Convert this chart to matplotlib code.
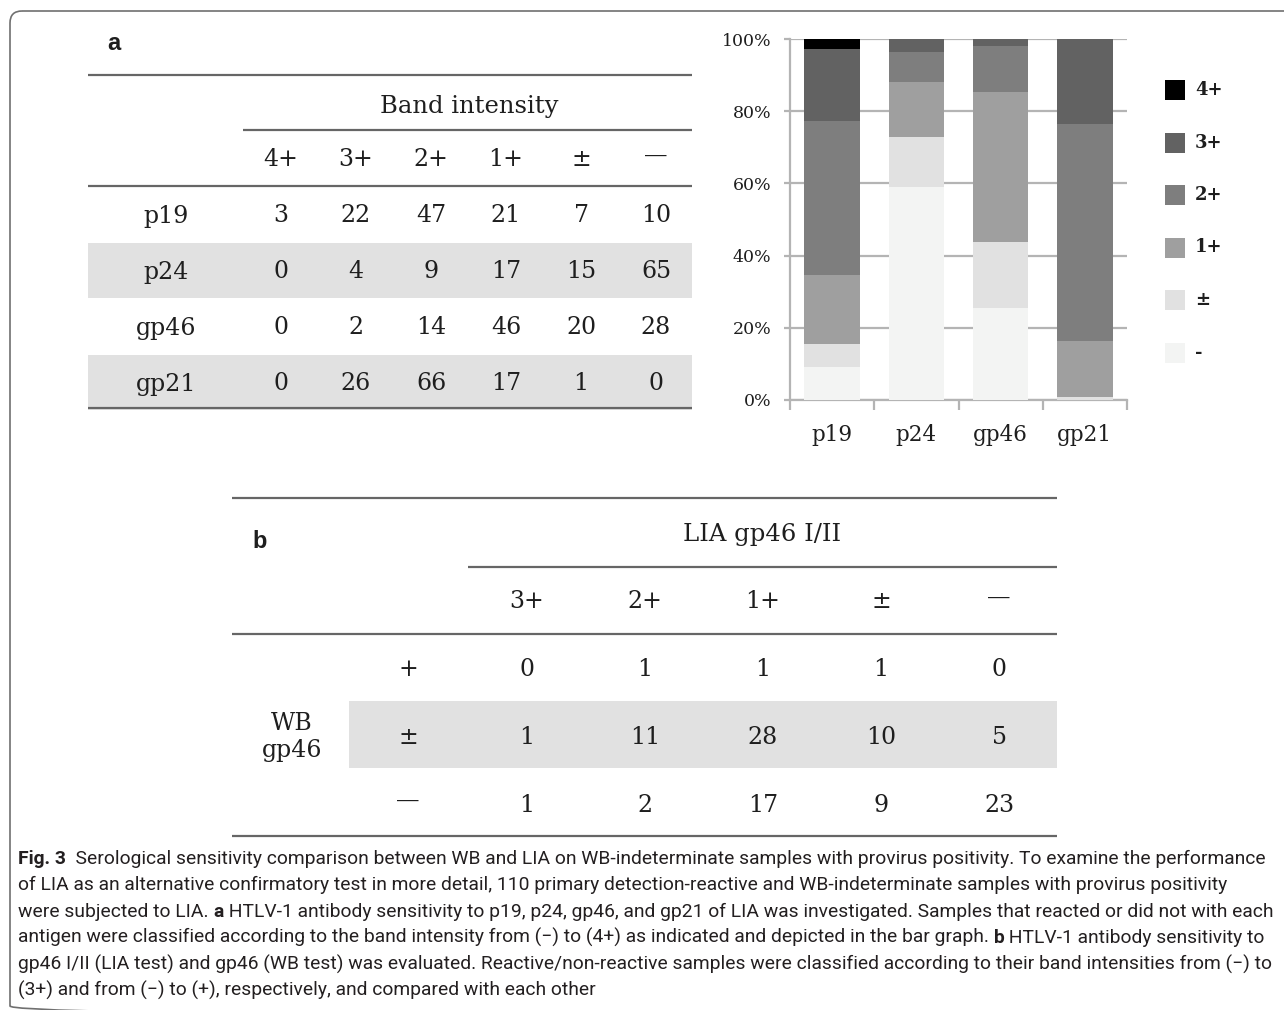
import matplotlib
matplotlib.use('Agg')
import matplotlib.pyplot as plt
import numpy as np
from matplotlib import font_manager
from matplotlib.patches import Rectangle, FancyBboxPatch

# ---- data ----
antigens = ['p19', 'p24', 'gp46', 'gp21']
intensity = ['4+', '3+', '2+', '1+', '±', '—']
counts_a = np.array([[3, 22, 47, 21, 7, 10],
                     [0, 4, 9, 17, 15, 65],
                     [0, 2, 14, 46, 20, 28],
                     [0, 26, 66, 17, 1, 0]])
legend_labels = ['4+', '3+', '2+', '1+', '±', '-']
bar_colors = ['#000000', '#626262', '#7e7e7e', '#9f9f9f', '#e1e1e1', '#f3f4f3']
pct_ticks = ['0%', '20%', '40%', '60%', '80%', '100%']

lia_cols = ['3+', '2+', '1+', '±', '—']
wb_rows = ['+', '±', '—']
counts_b = [[0, 1, 1, 1, 0],
            [1, 11, 28, 10, 5],
            [1, 2, 17, 9, 23]]

caption = [
    [('Fig. 3', True), ('  Serological sensitivity comparison between WB and LIA on WB-indeterminate samples with provirus positivity. To examine the performance', False)],
    [('of LIA as an alternative confirmatory test in more detail, 110 primary detection-reactive and WB-indeterminate samples with provirus positivity', False)],
    [('were subjected to LIA. ', False), ('a', True), (' HTLV-1 antibody sensitivity to p19, p24, gp46, and gp21 of LIA was investigated. Samples that reacted or did not with each', False)],
    [('antigen were classified according to the band intensity from (\u2212) to (4+) as indicated and depicted in the bar graph. ', False), ('b', True), (' HTLV-1 antibody sensitivity to', False)],
    [('gp46 I/II (LIA test) and gp46 (WB test) was evaluated. Reactive/non-reactive samples were classified according to their band intensities from (\u2212) to', False)],
    [('(3+) and from (\u2212) to (+), respectively, and compared with each other', False)],
]

W, H = 1284, 1010
serif = 'DejaVu Serif'
txt = '#1e1e1e'
rule = '#666666'
shade = '#e1e1e1'

fig = plt.figure(figsize=(W / 100, H / 100), dpi=100)
ax = fig.add_axes([0, 0, 1, 1])
ax.set_xlim(0, W)
ax.set_ylim(H, 0)
ax.axis('off')

# frame
ax.add_patch(FancyBboxPatch((10, 11), 1400, 1007, boxstyle='round,pad=0,rounding_size=12',
                            fill=False, ec='#707070', lw=1.2))

# ---- bar chart ----
bx = fig.add_axes([790 / W, 1 - 400 / H, (1127 - 790) / W, (400 - 39) / H])
pct = counts_a / counts_a.sum(axis=1, keepdims=True) * 100
x = np.arange(len(antigens))
bottom = np.zeros(len(antigens))
for j in range(len(intensity) - 1, -1, -1):
    bx.bar(x, pct[:, j], 0.66, bottom=bottom, color=bar_colors[j], linewidth=0, zorder=3)
    bottom += pct[:, j]
bx.set_xlim(-0.5, 3.5)
bx.set_ylim(0, 100)
bx.set_axisbelow(True)
bx.yaxis.grid(True, color='#b4b4b4', lw=1.6)
bx.set_yticks(np.arange(0, 101, 20))
bx.set_yticklabels(pct_ticks, fontsize=12.5, family=serif, color=txt)
bx.set_xticks(x)
bx.set_xticklabels(antigens, fontsize=15.5, family=serif, color=txt)
bx.set_xticks(np.arange(-0.5, 4, 1), minor=True)
bx.tick_params(axis='x', which='major', length=0, pad=17)
bx.tick_params(axis='x', which='minor', length=7, width=1.6, color='#b4b4b4')
bx.tick_params(axis='y', length=4.5, width=1.6, color='#b4b4b4', pad=9)
for s in ['top', 'right']:
    bx.spines[s].set_visible(False)
for s in ['left', 'bottom']:
    bx.spines[s].set_color('#b4b4b4')
    bx.spines[s].set_linewidth(1.6)

# legend
for i, lab in enumerate(legend_labels):
    yc = 90 + i * 52.5
    ax.add_patch(Rectangle((1165, yc - 10), 20, 20, color=bar_colors[i], lw=0))
    ax.text(1195, yc, lab, fontsize=13, family=serif, weight='bold', va='center', ha='left', color=txt)

# ---- table a ----
ax.text(107, 44, 'a', fontsize=17, family='Liberation Sans', weight='bold', va='center', color=txt)
ax.hlines([75, 186, 408], 88, 692, color=rule, lw=1.6)
ax.hlines(130, 243, 692, color=rule, lw=1.6)
ax.text(469, 106, 'Band intensity', fontsize=17.5, family=serif, ha='center', va='center', color=txt)
for j, lab in enumerate(intensity):
    yl = 155 if lab == '—' else 160
    ax.text(281 + j * 75, yl, lab, fontsize=17, family=serif, ha='center', va='center', color=txt)
for i, name in enumerate(antigens):
    yc = 216 + i * 56
    if i % 2 == 1:
        ax.add_patch(Rectangle((88, yc - 29), 604, 55, color=shade, lw=0))
    ax.text(166, yc, name, fontsize=17, family=serif, ha='center', va='center', color=txt)
    for j in range(len(intensity)):
        ax.text(281 + j * 75, yc, str(counts_a[i, j]), fontsize=17, family=serif,
                ha='center', va='center', color=txt)

# ---- table b ----
ax.hlines([498, 634, 836], 232, 1057, color=rule, lw=1.6)
ax.hlines(567, 468, 1057, color=rule, lw=1.6)
ax.text(252, 541, 'b', fontsize=17, family='Liberation Sans', weight='bold', va='center', color=txt)
ax.text(762, 535, 'LIA gp46 I/II', fontsize=17.5, family=serif, ha='center', va='center', color=txt)
for j, lab in enumerate(lia_cols):
    yl = 597 if lab == '—' else 602
    ax.text(527 + j * 118, yl, lab, fontsize=17, family=serif, ha='center', va='center', color=txt)
ax.add_patch(Rectangle((349, 701), 708, 67, color=shade, lw=0))
ax.text(292, 737, 'WB\ngp46', fontsize=17, family=serif, ha='center', va='center',
        linespacing=1.25, color=txt)
for i, lab in enumerate(wb_rows):
    yc = 669 + i * 68
    yl = yc - 5 if lab == '—' else yc
    ax.text(408, yl, lab, fontsize=17, family=serif, ha='center', va='center', color=txt)
    for j in range(len(lia_cols)):
        ax.text(527 + j * 118, yc, str(counts_b[i][j]), fontsize=17, family=serif,
                ha='center', va='center', color=txt)

# ---- caption ----
names = {f.name for f in font_manager.fontManager.ttflist}
cap_font = 'Liberation Sans Narrow' if 'Liberation Sans Narrow' in names else 'Roboto'
renderer = fig.canvas.get_renderer()

def draw_line(segs, x0, y, size, measure=False):
    xx = x0
    for seg, bold in segs:
        t = ax.text(xx, y, seg, fontsize=size, family=[cap_font, 'DejaVu Sans'],
                    weight='bold' if bold else 'normal', va='baseline', ha='left', color='#231f20')
        xx += t.get_window_extent(renderer=renderer).width
        if measure:
            t.remove()
    return xx - x0

w10 = draw_line(caption[0], 18, 0, 10, measure=True)
cap_size = 10 * 1250 / w10
for k, segs in enumerate(caption):
    draw_line(segs, 18, 864 + k * 26.4, cap_size)

fig.savefig('out.png', dpi=100)
